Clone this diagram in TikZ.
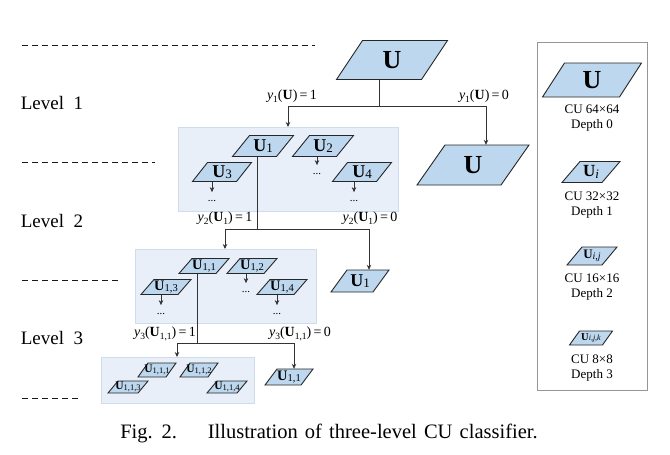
\documentclass[tikz,border=0pt]{standalone}
\usepackage{fontspec}
\setmainfont{Liberation Serif}
\usetikzlibrary{arrows.meta}
\definecolor{cublue}{RGB}{189,215,238}
\definecolor{boxfill}{RGB}{232,239,248}
\definecolor{boxline}{RGB}{208,220,234}
\definecolor{legline}{RGB}{150,150,150}
\tikzset{
  cushape/.style={draw=black!85, fill=cublue, line width=0.9pt, line join=miter},
  groupbox/.style={draw=boxline, fill=boxfill, line width=0.7pt, inner sep=0, anchor=north west},
  conn/.style={draw=black!80, line width=0.7pt},
  arr/.style={conn, -{Stealth[length=5pt,width=4.5pt]}},
  levlabel/.style={font=\fontsize{19}{19}\selectfont, inner sep=0},
  ylabel/.style={font=\fontsize{14}{14}\selectfont, inner sep=0},
  leglabel/.style={font=\fontsize{13}{15.5}\selectfont, inner sep=0, align=center},
  dotslabel/.style={font=\fontsize{11}{11}\selectfont, inner sep=0},
  sepline/.style={draw=black!90, line width=0.8pt, dash pattern=on 6pt off 4pt}
}
% name, cx, cy, w, h, slant, text
\newcommand\cu[7]{%
  \draw[cushape] ({#2-#4/2-#6/2},{#3+#5/2}) -- ({#2+#4/2-#6/2},{#3+#5/2}) -- ({#2+#4/2+#6/2},{#3-#5/2}) -- ({#2-#4/2+#6/2},{#3-#5/2}) -- cycle;
  \node[inner sep=0, minimum width=#4pt, minimum height=#5pt] (#1) at (#2,#3) {#7};}
\newcommand\UA{\fontsize{26}{26}\selectfont\bfseries U}
\newcommand\UB[1]{\fontsize{18}{18}\selectfont\textbf{U}\raisebox{-0.15ex}{\fontsize{13}{13}\selectfont #1}}
\newcommand\UC[1]{\fontsize{14.5}{14.5}\selectfont\textbf{U}\raisebox{-0.15ex}{\fontsize{10.5}{10.5}\selectfont #1}}
\newcommand\UD[1]{\fontsize{11.5}{11.5}\selectfont\textbf{U}\raisebox{-0.1ex}{\fontsize{8.5}{8.5}\selectfont #1}}
\newcommand\sub[1]{\raisebox{-0.45ex}{\fontsize{9.5}{9.5}\selectfont #1}}
\begin{document}
\begin{tikzpicture}[x=1pt,y=-1pt]
\useasboundingbox[fill=white] (0,0) rectangle (670,455);

% separator lines
\draw[sepline] (22,45) -- (315,45);
\draw[sepline] (22,162) -- (155,162);
\draw[sepline] (22,280) -- (120,280);
\draw[sepline] (22,398) -- (80,398);

% level labels
\node[levlabel] (lev1) at (52,103) {Level\ \ 1};
\node[levlabel] (lev2) at (52,221) {Level\ \ 2};
\node[levlabel] (lev3) at (52,338) {Level\ \ 3};

% group boxes
\node[groupbox, minimum width=220pt, minimum height=84pt] (box2) at (178,127) {};
\node[groupbox, minimum width=181pt, minimum height=74pt] (box3) at (135,249) {};
\node[groupbox, minimum width=153pt, minimum height=46pt] (box4) at (101,357) {};

% legend box
\node[draw=legline, line width=0.8pt, inner sep=0, anchor=north west, minimum width=110pt, minimum height=348pt] (legend) at (537,42) {};

% level 1
\cu{U0}{392}{60}{85}{39}{26}{\UA}
\cu{U0r}{473}{165}{84}{40}{28}{\UA}

% level 2
\cu{U1}{263}{146}{44}{21}{17}{\UB{1}}
\cu{U2}{323}{146}{44}{21}{17}{\UB{2}}
\cu{U3}{222}{172}{44}{19}{15}{\UB{3}}
\cu{U4}{362}{172}{44}{19}{15}{\UB{4}}
\cu{U1r}{360}{281}{42}{22}{16}{\UB{1}}

% level 3
\cu{U11}{204}{266}{37}{15}{13}{\UC{1,1}}
\cu{U12}{252}{266}{37}{15}{13}{\UC{1,2}}
\cu{U13}{166}{287}{37}{15}{13}{\UC{1,3}}
\cu{U14}{282}{287}{37}{15}{13}{\UC{1,4}}
\cu{U11r}{289}{377}{36}{16}{12}{\UC{1,1}}

% level 4
\cu{U111}{157}{370}{28}{14}{10}{\UD{1,1,1}}
\cu{U112}{199}{370}{28}{14}{10}{\UD{1,1,2}}
\cu{U113}{128}{387}{30}{12}{10}{\UD{1,1,3}}
\cu{U114}{227}{387}{30}{12}{10}{\UD{1,1,4}}

% dots in level 2 and 3
\node[dotslabel] (d2) at (317,174) {...};
\node[dotslabel] (d3) at (212,201) {...};
\node[dotslabel] (d4) at (354,201) {...};
\node[dotslabel] (d12) at (246,292) {...};
\node[dotslabel] (d13) at (161,314) {...};
\node[dotslabel] (d14) at (277,314) {...};
\draw[arr] (U2.south -| d2) -- ([yshift=8pt]d2.north);
\draw[arr] (U3.south -| d3) -- ([yshift=8pt]d3.north);
\draw[arr] (U4.south -| d4) -- ([yshift=8pt]d4.north);
\draw[arr] (U12.south -| d12) -- ([yshift=8pt]d12.north);
\draw[arr] (U13.south -| d13) -- ([yshift=8pt]d13.north);
\draw[arr] (U14.south -| d14) -- ([yshift=8pt]d14.north);

% level 1 split
\coordinate (j1) at (379,106);
\coordinate (j1l) at (288,106);
\coordinate (j1r) at (486,106);
\draw[conn] (U0.south -| j1) -- (j1);
\draw[conn] (j1l) -- (j1r);
\draw[arr] (j1l) -- (j1l |- box2.north);
\draw[arr] (j1r) -- (j1r |- U0r.north);
\node[ylabel] (y1a) at (292,96) {\textit{y}\sub{1}(\textbf{U})\,=\,1};
\node[ylabel] (y1b) at (484,96) {\textit{y}\sub{1}(\textbf{U})\,=\,0};

% level 2 split
\coordinate (j2) at (257,229);
\coordinate (j2l) at (225,229);
\coordinate (j2r) at (369,229);
\draw[conn] (U1.south -| j2) -- (j2);
\draw[conn] (j2l) -- (j2r);
\draw[arr] (j2l) -- (j2l |- box3.north);
\draw[arr] (j2r) -- (j2r |- U1r.north);
\node[ylabel] (y2a) at (225,218) {\textit{y}\sub{2}(\textbf{U}\sub{1})\,=\,1};
\node[ylabel] (y2b) at (370,218) {\textit{y}\sub{2}(\textbf{U}\sub{1})\,=\,0};

% level 3 split
\coordinate (j3) at (197,343);
\coordinate (j3l) at (177,343);
\coordinate (j3r) at (294,343);
\draw[conn] (U11.south -| j3) -- (j3);
\draw[conn] (j3l) -- (j3r);
\draw[arr] (j3l) -- (j3l |- box4.north);
\draw[arr] (j3r) -- (j3r |- U11r.north);
\node[ylabel] (y3a) at (165,334) {\textit{y}\sub{3}(\textbf{U}\sub{1,1})\,=\,1};
\node[ylabel] (y3b) at (300,334) {\textit{y}\sub{3}(\textbf{U}\sub{1,1})\,=\,0};

% legend
\cu{L0}{592}{80}{77}{34}{22}{\UA}
\node[leglabel] (t0) at (592,118) {CU 64×64\\Depth 0};
\cu{L1}{591}{172}{40}{21}{18}{\fontsize{17}{17}\selectfont\textbf{U}\raisebox{-0.15ex}{\fontsize{13}{13}\selectfont\itshape i}}
\node[leglabel] (t1) at (592,205) {CU 32×32\\Depth 1};
\cu{L2}{592}{256}{35}{18}{15}{\fontsize{13}{13}\selectfont\textbf{U}\raisebox{-0.15ex}{\fontsize{10}{10}\selectfont\itshape i,j}}
\node[leglabel] (t2) at (592,287) {CU 16×16\\Depth 2};
\cu{L3}{591}{338}{33}{14}{10}{\fontsize{10.5}{10.5}\selectfont\textbf{U}\raisebox{-0.1ex}{\fontsize{8}{8}\selectfont\itshape i,j,k}}
\node[leglabel] (t3) at (592,368) {CU 8×8\\Depth 3};

% caption
\node[inner sep=0, font=\fontsize{20.5}{20.5}\selectfont] (cap) at (329,433) {\spaceskip=0.35em plus 0.1em\relax Fig. 2.\hspace{1.5em}Illustration of three-level CU classifier.};
\end{tikzpicture}
\end{document}
